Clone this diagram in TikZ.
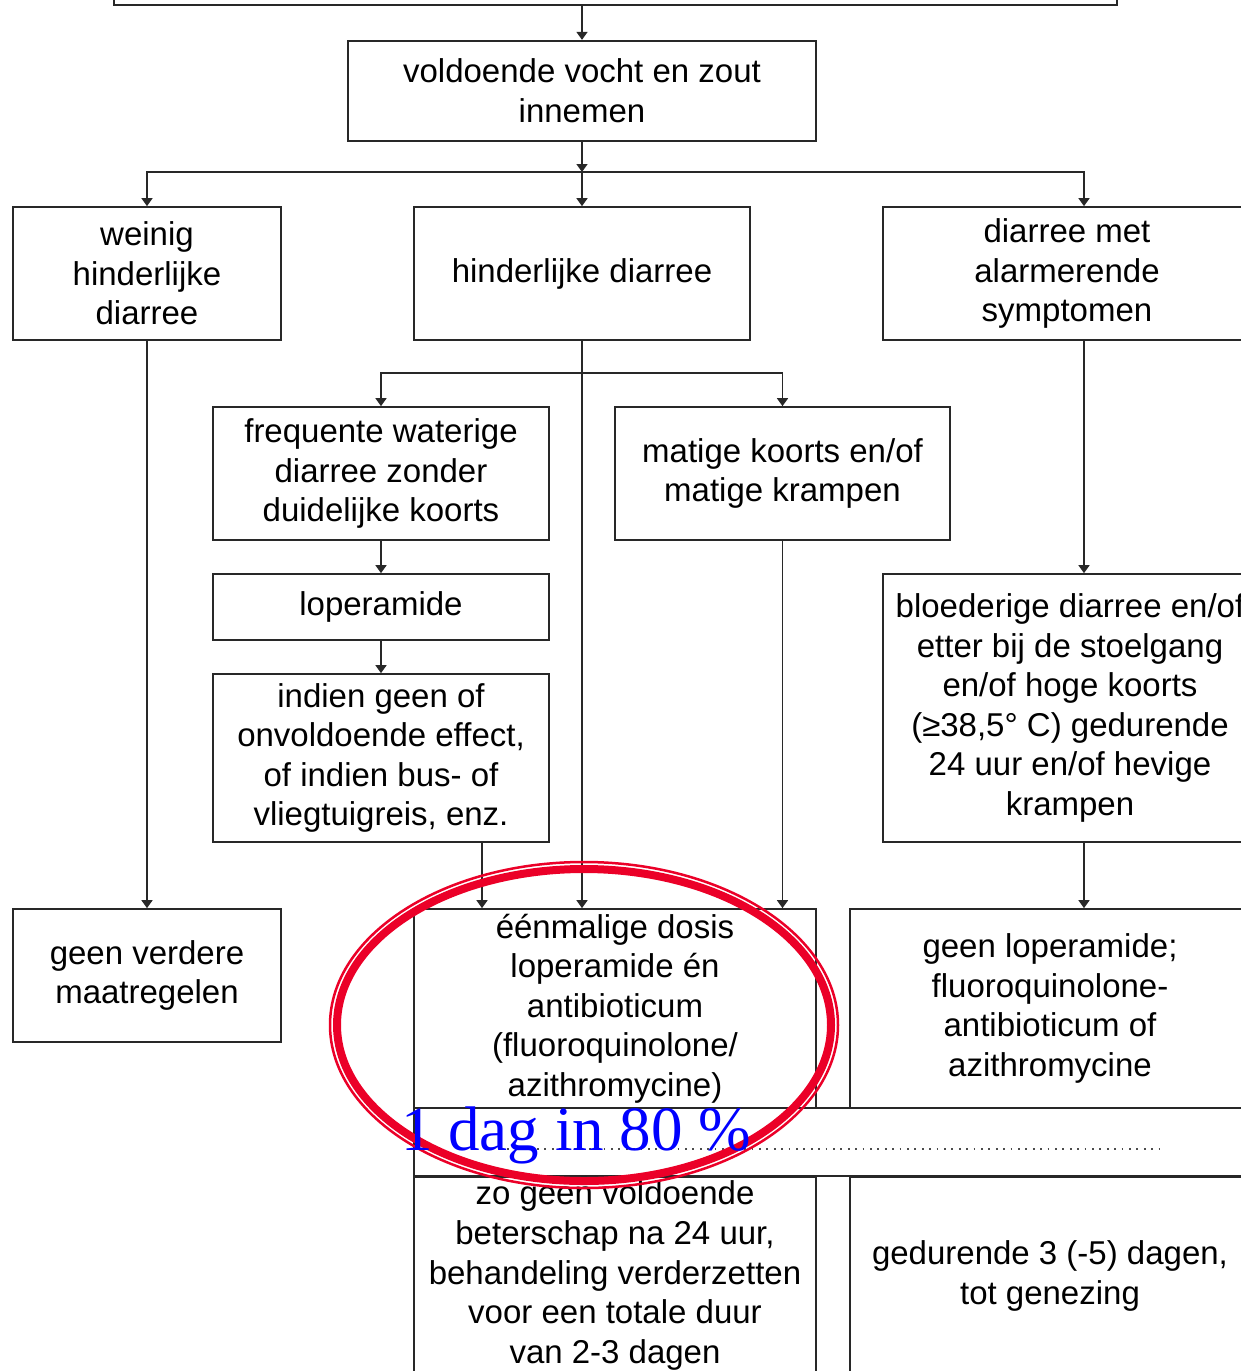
\documentclass[tikz,border=0pt]{standalone}
\usepackage{fontspec}
\setmainfont{Liberation Sans}
\newfontfamily\serifblue{Liberation Serif}
\usetikzlibrary{arrows.meta}
\definecolor{stampred}{RGB}{235,0,40}
\definecolor{frame}{RGB}{40,40,40}
\begin{document}
\begin{tikzpicture}[x=1pt,y=-1pt,
  box/.style={draw=frame, line width=1.7pt, inner sep=0pt, align=center,
    font=\fontsize{33}{39.6}\selectfont},
  thickbox/.style={box, line width=2.3pt},
  arr/.style={draw=frame, line width=1.6pt, -{Triangle[length=8pt,width=11pt]}},
  dotline/.style={draw=black!70, line width=1.8pt, dash pattern=on 1.8pt off 5.6pt},
  stampthick/.style={draw=stampred, line width=8pt},
  stampthin/.style={draw=stampred, line width=2.5pt},
  note/.style={anchor=base west, inner sep=0pt, text=blue,
    font=\serifblue\fontsize{63}{70}\selectfont}]
\useasboundingbox (0,0) rectangle (1241,1371);
\clip (0,0) rectangle (1241,1371);

% boxes
\node[thickbox, minimum width=1003pt, minimum height=40pt] (top) at (615.5,-15) {};
\node[thickbox, minimum width=468pt, minimum height=100pt] (vold) at (582,91) {voldoende vocht en zout\\innemen};
\node[box, minimum width=268pt, minimum height=133pt] (weinig) at (147,273.5) {weinig\\hinderlijke\\diarree};
\node[box, minimum width=336pt, minimum height=133pt] (hind) at (582,273.5) {hinderlijke diarree};
\node[box, minimum width=368pt, minimum height=133pt] (alarm) at (1067,273.5) {diarree met\\alarmerende\\symptomen};
\node[box, minimum width=336pt, minimum height=133pt] (freq) at (381,473.5) {frequente waterige\\diarree zonder\\duidelijke koorts};
\node[box, minimum width=335pt, minimum height=133pt] (mat) at (782.5,473.5) {matige koorts en/of\\matige krampen};
\node[box, minimum width=336pt, minimum height=66pt] (lop) at (381,607) {loperamide};
\node[box, minimum width=336pt, minimum height=168pt] (indien) at (381,758) {indien geen of\\onvoldoende effect,\\of indien bus- of\\vliegtuigreis, enz.};
\node[box, minimum width=374pt, minimum height=268pt] (bloed) at (1070,708) {bloederige diarree en/of\\etter bij de stoelgang\\en/of hoge koorts\\(≥38,5° C) gedurende\\24 uur en/of hevige\\krampen};
\node[box, minimum width=268pt, minimum height=133pt] (geenv) at (147,975.5) {geen verdere\\maatregelen};
\node[box, minimum width=402pt, minimum height=199pt] (een) at (615,1008.5) {éénmalige dosis\\loperamide én\\antibioticum\\(fluoroquinolone/\\azithromycine)};
\node[box, minimum width=400pt, minimum height=199pt] (geenlop) at (1050,1008.5) {geen loperamide;\\fluoroquinolone-\\antibioticum of\\azithromycine};
\node[box, minimum width=846pt, minimum height=68pt] (band) at (837,1142) {};
\node[box, minimum width=402pt, minimum height=197pt] (zo) at (615,1275.5) {zo geen voldoende\\beterschap na 24 uur,\\behandeling verderzetten\\voor een totale duur\\van 2-3 dagen};
\node[box, minimum width=400pt, minimum height=197pt] (ged) at (1050,1276) {gedurende 3 (-5) dagen,\\tot genezing};

% junctions
\coordinate (j1) at (582,172);
\coordinate (j2) at (582,373);
\coordinate (d1) at (500,1149);
\coordinate (d2) at (1160,1149);

% connectors
\draw[arr] (vold.north |- top.south) -- (vold.north);
\draw[arr] (vold.south) -- (j1);
\draw[arr] (j1) -| (weinig.north);
\draw[arr] (j1) -- (hind.north);
\draw[arr] (j1) -| ([xshift=17pt]alarm.north);
\draw[arr] (hind.south) -- (hind.south |- een.north);
\draw[arr] (j2) -| (freq.north);
\draw[arr] (j2) -| (mat.north);
\draw[arr] (freq.south) -- (lop.north);
\draw[arr] (lop.south) -- (indien.north);
\draw[arr] ([xshift=101pt]indien.south) -- ([xshift=101pt]indien.south |- een.north);
\draw[arr] (mat.south) -- (mat.south |- een.north);
\draw[arr] (weinig.south) -- (geenv.north);
\draw[arr] ([xshift=17pt]alarm.south) -- ([xshift=17pt]alarm.south |- bloed.north);
\draw[arr] ([xshift=14pt]bloed.south) -- ([xshift=14pt]bloed.south |- geenlop.north);

% dotted line in band
\draw[dotline] (d1) -- (d2);

% red stamp ellipse
\draw[stampthin] (584,1025) ellipse [x radius=254pt, y radius=163pt];
\draw[stampthick] (584,1025) ellipse [x radius=247pt, y radius=156pt];

% blue annotation
\node[note] (ann) at (401,1150) {1 dag in 80 \%};
\end{tikzpicture}
\end{document}
